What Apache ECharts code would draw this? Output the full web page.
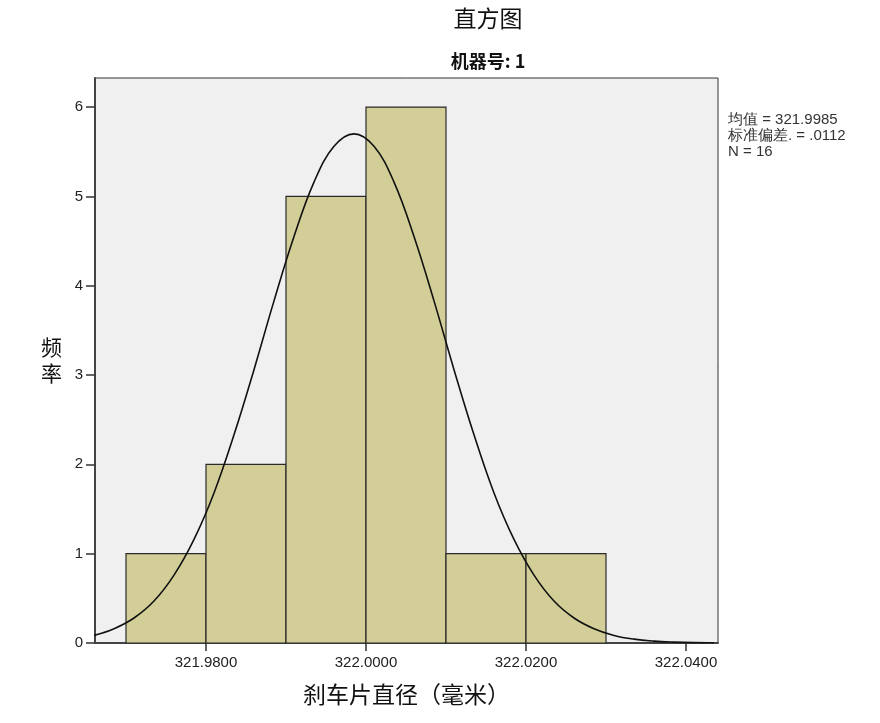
<!DOCTYPE html>
<html>
<head>
<meta charset="utf-8">
<script src="https://cdn.jsdelivr.net/npm/echarts@6/dist/echarts.min.js"></script>
<style>
  html, body { margin: 0; padding: 0; background: #fff; }
  #chart { width: 880px; height: 723px; }
</style>
</head>
<body>
<div id="chart"></div>
<script>
// bins of the histogram: [start, end]
var binStart = [321.97, 321.98, 321.99, 322.00, 322.01, 322.02];
var binEnd   = [321.98, 321.99, 322.00, 322.01, 322.02, 322.03];
var binCount = [1, 2, 5, 6, 1, 1];

// normal curve
var curveX = [321.9660, 321.9685, 321.9710, 321.9735, 321.9760, 321.9785, 321.9810, 321.9835,
              321.9860, 321.9885, 321.9910, 321.9935, 321.9960, 321.9985, 322.0010, 322.0035,
              322.0060, 322.0085, 322.0110, 322.0135, 322.0160, 322.0185, 322.0210, 322.0235,
              322.0260, 322.0285, 322.0310, 322.0335, 322.0360, 322.0385, 322.0410, 322.0435];
var curveY = [0.085, 0.16, 0.28, 0.47, 0.76, 1.16, 1.68, 2.33,
              3.06, 3.83, 4.55, 5.16, 5.56, 5.70, 5.56, 5.16,
              4.55, 3.83, 3.06, 2.33, 1.68, 1.16, 0.76, 0.47,
              0.28, 0.16, 0.085, 0.043, 0.021, 0.01, 0.004, 0.002];

var xTicks = [321.98, 322.00, 322.02, 322.04];
var yTicks = [0, 1, 2, 3, 4, 5, 6];
var statLines = ['均值 = 321.9985', '标准偏差. = .0112', 'N = 16'];

var histData = [];
for (var i = 0; i < binCount.length; i++) {
  histData.push([binStart[i], binEnd[i], binCount[i]]);
}
var curveData = [];
for (var j = 0; j < curveX.length; j++) {
  curveData.push([curveX[j], curveY[j]]);
}

var myChart = echarts.init(document.getElementById('chart'));
var option = {
  backgroundColor: '#fff',
  animation: false,
  title: [
    {
      text: '直方图', left: 483, top: 2, textAlign: 'center',
      textStyle: { fontFamily: 'Noto Sans CJK SC', fontSize: 23, fontWeight: 'normal', color: '#111' }
    },
    {
      text: '机器号: 1', left: 483, top: 47, textAlign: 'center',
      textStyle: { fontFamily: 'Noto Sans CJK SC', fontSize: 18, fontWeight: 'bold', color: '#111' }
    }
  ],
  grid: {
    left: 95, right: 162, top: 78, bottom: 80,
    show: true, backgroundColor: '#f0f0f0', borderColor: '#333', borderWidth: 1
  },
  xAxis: {
    type: 'value',
    min: 321.966125, max: 322.044,
    name: '刹车片直径（毫米）',
    nameLocation: 'middle', nameGap: 40,
    nameTextStyle: { fontFamily: 'Noto Sans CJK SC', fontSize: 23, color: '#111' },
    splitLine: { show: false },
    axisLine: { lineStyle: { color: '#444', width: 2 } },
    axisTick: { customValues: xTicks, length: 8, lineStyle: { color: '#333', width: 1.5 } },
    axisLabel: {
      customValues: xTicks, margin: 12,
      fontFamily: 'Liberation Sans', fontSize: 15, color: '#222',
      formatter: function (v) { return v.toFixed(4); }
    }
  },
  yAxis: {
    type: 'value',
    min: 0, max: 6.325,
    name: '频\n率',
    nameLocation: 'middle', nameGap: 33, nameRotate: 0,
    nameTextStyle: { fontFamily: 'Noto Sans CJK SC', fontSize: 21, color: '#111', lineHeight: 26 },
    splitLine: { show: false },
    axisLine: { show: true, lineStyle: { color: '#444', width: 2 } },
    axisTick: { show: true, customValues: yTicks, length: 9, lineStyle: { color: '#333', width: 1.5 } },
    axisLabel: { customValues: yTicks, margin: 12, fontFamily: 'Liberation Sans', fontSize: 15, color: '#222' }
  },
  series: [
    {
      type: 'custom',
      data: histData,
      encode: { x: [0, 1], y: 2 },
      renderItem: function (params, api) {
        var p0 = api.coord([api.value(0), api.value(2)]);
        var p1 = api.coord([api.value(1), 0]);
        return {
          type: 'rect',
          shape: { x: p0[0], y: p0[1], width: p1[0] - p0[0], height: p1[1] - p0[1] },
          style: { fill: '#d3ce97', stroke: '#2a2a2a', lineWidth: 1.2 }
        };
      }
    },
    {
      type: 'line',
      data: curveData,
      smooth: 0.4,
      showSymbol: false,
      clip: true,
      lineStyle: { color: '#111', width: 1.6 },
      z: 5
    }
  ],
  graphic: [
    {
      type: 'text', left: 728, top: 112,
      style: {
        text: statLines.join('\n'),
        fontFamily: 'Liberation Sans', fontSize: 15, lineHeight: 16, fill: '#333'
      }
    }
  ]
};
myChart.setOption(option);
</script>
</body>
</html>
